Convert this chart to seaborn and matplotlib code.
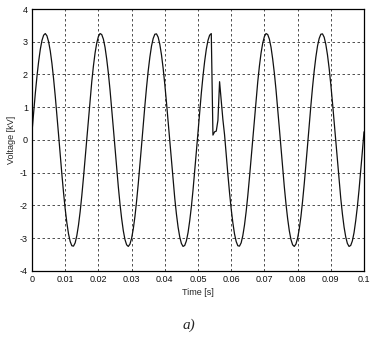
import numpy as np
import pandas as pd
import seaborn as sns
import matplotlib
matplotlib.use("Agg")
import matplotlib.pyplot as plt

# samples every 0.5 ms (kV)
time_s = np.round(np.arange(0, 201) * 0.0005, 4)

voltage_kv = [
    # 0.000 - 0.0495
    0.25, 0.85, 1.43, 1.95, 2.40, 2.77, 3.04, 3.20, 3.25, 3.18,
    3.00, 2.72, 2.34, 1.87, 1.34, 0.76, 0.16, -0.45, -1.05, -1.61,
    -2.11, -2.53, -2.87, -3.10, -3.23, -3.24, -3.14, -2.92, -2.60, -2.19,
    -1.70, -1.15, -0.56, 0.05, 0.65, 1.24, 1.78, 2.26, 2.66, 2.96,
    3.16, 3.25, 3.22, 3.08, 2.83, 2.47, 2.04, 1.53, 0.96, 0.36,
    -0.25, -0.85, -1.43, -1.95, -2.40, -2.77, -3.04, -3.20, -3.25, -3.18,
    -3.00, -2.72, -2.34, -1.87, -1.34, -0.76, -0.16, 0.45, 1.05, 1.61,
    2.11, 2.53, 2.87, 3.10, 3.23, 3.24, 3.14, 2.92, 2.60, 2.19,
    1.70, 1.15, 0.56, -0.05, -0.65, -1.24, -1.78, -2.26, -2.66, -2.96,
    -3.16, -3.25, -3.22, -3.08, -2.83, -2.47, -2.04, -1.53, -0.96, -0.36,
    # 0.050 - 0.0995 (disturbance near 0.054 - 0.057)
    0.25, 0.85, 1.43, 1.95, 2.40, 2.77, 3.04, 3.20, 3.25, 0.15,
    0.25, 0.27, 0.60, 1.78, 1.20, 0.62, 0.16, -0.45, -1.05, -1.61,
    -2.11, -2.53, -2.87, -3.10, -3.23, -3.24, -3.14, -2.92, -2.60, -2.19,
    -1.70, -1.15, -0.56, 0.05, 0.65, 1.24, 1.78, 2.26, 2.66, 2.96,
    3.16, 3.25, 3.22, 3.08, 2.83, 2.47, 2.04, 1.53, 0.96, 0.36,
    -0.25, -0.85, -1.43, -1.95, -2.40, -2.77, -3.04, -3.20, -3.25, -3.18,
    -3.00, -2.72, -2.34, -1.87, -1.34, -0.76, -0.16, 0.45, 1.05, 1.61,
    2.11, 2.53, 2.87, 3.10, 3.23, 3.24, 3.14, 2.92, 2.60, 2.19,
    1.70, 1.15, 0.56, -0.05, -0.65, -1.24, -1.78, -2.26, -2.66, -2.96,
    -3.16, -3.25, -3.22, -3.08, -2.83, -2.47, -2.04, -1.53, -0.96, -0.36,
    0.25,
]

x_ticks = [0, 0.01, 0.02, 0.03, 0.04, 0.05, 0.06, 0.07, 0.08, 0.09, 0.1]
x_tick_labels = ['0', '0.01', '0.02', '0.03', '0.04', '0.05', '0.06',
                 '0.07', '0.08', '0.09', '0.1']
y_ticks = [-4, -3, -2, -1, 0, 1, 2, 3, 4]
y_tick_labels = ['-4', '-3', '-2', '-1', '0', '1', '2', '3', '4']

df = pd.DataFrame({'time': time_s, 'voltage': voltage_kv})

sns.set_style("white")
plt.rcParams['font.family'] = ['Liberation Sans', 'DejaVu Sans']

fig = plt.figure(figsize=(3.77, 3.41), dpi=100)
ax = fig.add_axes([0.0849, 0.2053, 0.8806, 0.7683])

sns.lineplot(data=df, x='time', y='voltage', ax=ax, color='#111111',
             linewidth=0.9, estimator=None, sort=False)

ax.set_xlim(0, 0.1)
ax.set_ylim(-4, 4)
ax.set_xticks(x_ticks)
ax.set_xticklabels(x_tick_labels)
ax.set_yticks(y_ticks)
ax.set_yticklabels(y_tick_labels)
ax.tick_params(direction='in', length=3, width=0.6, labelsize=6.5,
               colors='#111111', pad=3)
ax.grid(True, color='#333333', linestyle=(0, (3, 3)), linewidth=0.6)

for side in ['top', 'right', 'bottom', 'left']:
    ax.spines[side].set_visible(True)
    ax.spines[side].set_color('black')
    ax.spines[side].set_linewidth(0.9)

ax.set_xlabel('Time [s]', fontsize=6.5, labelpad=3)
ax.set_ylabel('Voltage [kV]', fontsize=6.5, labelpad=3)

fig.text(0.5, 0.045, 'a)', fontsize=11, style='italic',
         family=['Liberation Serif', 'DejaVu Serif'], ha='center', va='center')

fig.savefig('out.png', dpi=100)
